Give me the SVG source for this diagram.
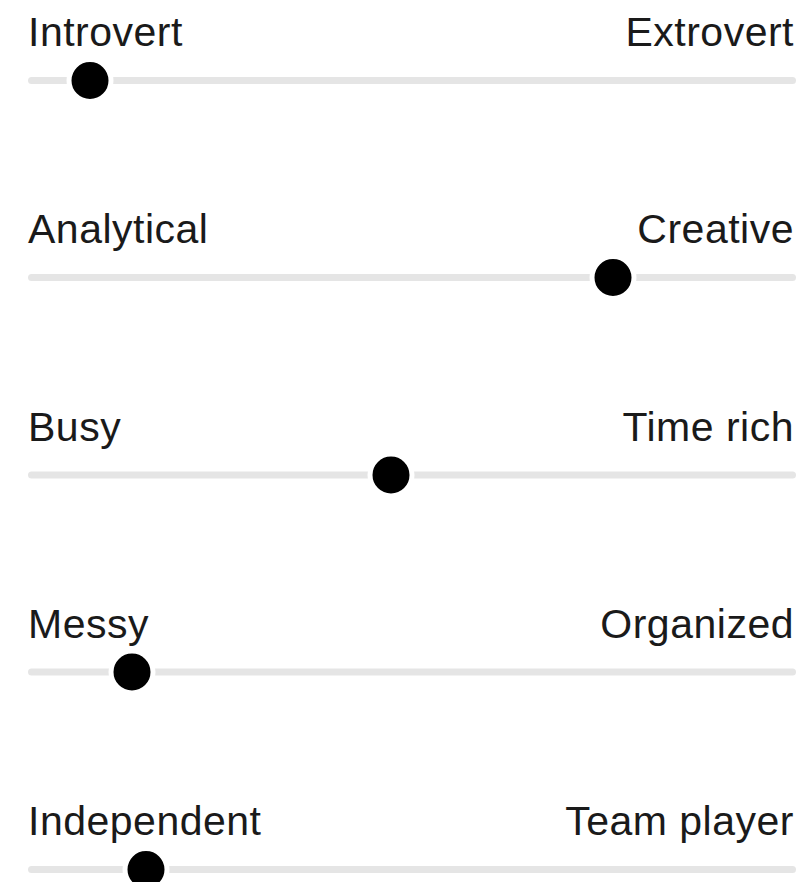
<svg xmlns="http://www.w3.org/2000/svg" width="804" height="882" viewBox="0 0 804 882">
<style>
.lbl{font-family:"Liberation Sans",Arial,sans-serif;font-size:41px;letter-spacing:0.5px;fill:#1a1a1a}
.r{text-anchor:end}
.track{fill:#e5e5e5}
.knob{fill:#000;stroke:#fff;stroke-width:5}
</style>
<rect width="804" height="882" fill="#fff"/>
<g id="slider1">
<text class="lbl" x="28" y="46">Introvert</text>
<text class="lbl r" x="794" y="46">Extrovert</text>
<rect class="track" x="28" y="77" width="768" height="7" rx="3.5"/>
<circle class="knob" cx="90" cy="80.5" r="21"/>
</g>
<g id="slider2">
<text class="lbl" x="28" y="243">Analytical</text>
<text class="lbl r" x="794" y="243">Creative</text>
<rect class="track" x="28" y="274" width="768" height="7" rx="3.5"/>
<circle class="knob" cx="613" cy="277.5" r="21"/>
</g>
<g id="slider3">
<text class="lbl" x="28" y="441">Busy</text>
<text class="lbl r" x="794" y="441">Time rich</text>
<rect class="track" x="28" y="471.5" width="768" height="7" rx="3.5"/>
<circle class="knob" cx="391" cy="475" r="21"/>
</g>
<g id="slider4">
<text class="lbl" x="28" y="638">Messy</text>
<text class="lbl r" x="794" y="638">Organized</text>
<rect class="track" x="28" y="668.5" width="768" height="7" rx="3.5"/>
<circle class="knob" cx="132" cy="672" r="21"/>
</g>
<g id="slider5">
<text class="lbl" x="28" y="835">Independent</text>
<text class="lbl r" x="794" y="835">Team player</text>
<rect class="track" x="28" y="866" width="768" height="7" rx="3.5"/>
<circle class="knob" cx="146" cy="869.5" r="21"/>
</g>
<g id="connectors"/>
</svg>
